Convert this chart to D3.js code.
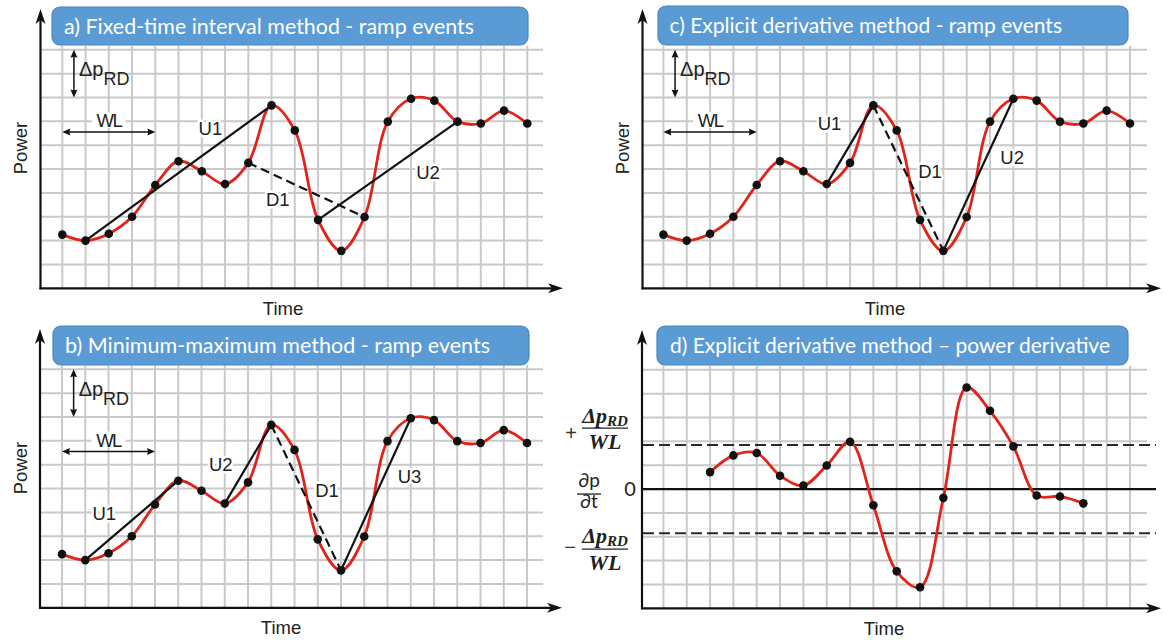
<!DOCTYPE html>
<html><head><meta charset="utf-8">
<script src="https://cdn.jsdelivr.net/npm/d3@7"></script>
<style>body{margin:0;background:#fff} svg{display:block}</style>
</head><body>
<svg id="chart" width="1163" height="641"></svg>
<script>
// ================= DATA =================
const timeSteps = [0,1,2,3,4,5,6,7,8,9,10,11,12,13,14,15,16,17,18,19,20];
const powerValues = [2.25,2.0,2.29,3.0,4.33,5.33,4.91,4.37,5.26,7.67,6.62,2.87,1.57,2.99,6.99,7.95,7.87,6.99,6.91,7.45,6.91];
const derivTimeSteps = [2,3,4,5,6,7,8,9,10,11,12,13,14,15,16,17,18];
const derivValues = [0.71,1.41,1.51,0.56,0.15,0.99,1.98,-0.68,-3.45,-4.12,-0.37,4.26,3.28,1.79,-0.27,-0.31,-0.6];
const rampThreshold = 1.85;
const rampsA = [
  {name:"U1", from:1, to:9, dir:"up"},
  {name:"D1", from:8, to:13, dir:"down"},
  {name:"U2", from:11, to:17, dir:"up"}
];
const rampsB = [
  {name:"U1", from:1, to:5, dir:"up"},
  {name:"U2", from:7, to:9, dir:"up"},
  {name:"D1", from:9, to:12, dir:"down"},
  {name:"U3", from:12, to:15, dir:"up"}
];
const rampsC = [
  {name:"U1", from:7, to:9, dir:"up"},
  {name:"D1", from:9, to:12, dir:"down"},
  {name:"U2", from:12, to:15, dir:"up"}
];
const titleA = "a) Fixed-time interval method  - ramp events";
const titleB = "b) Minimum-maximum method - ramp events";
const titleC = "c) Explicit derivative method - ramp events";
const titleD = "d) Explicit derivative method \u2013 power derivative";
const yLabel = "Power";
const xLabel = "Time";

// ================= LAYOUT =================
const labelPosA = {U1:[6.37,6.71], D1:[9.27,3.76], U2:[15.73,4.89]};
const labelPosB = {U1:[1.82,3.97], U2:[6.83,6.04], D1:[11.4,4.95], U3:[14.95,5.53]};
const labelPosC = {U1:[7.12,6.92], D1:[11.43,4.93], U2:[14.95,5.52]};

const GRID = "#c9c9c9", RED = "#e2231a", BOX = "#5b9bd5", BOXS = "#4a86c0";
const SANS = "'Liberation Sans', Arial, sans-serif";
const TSANS = "Lato, 'Open Sans', sans-serif";
const svg = d3.select("#chart");

function arrowHead(g, tx, ty, dir, len, half, notch) {
  let p;
  if (dir === 'r') p = [[tx,ty],[tx-len,ty-half],[tx-len+notch,ty],[tx-len,ty+half]];
  if (dir === 'l') p = [[tx,ty],[tx+len,ty-half],[tx+len-notch,ty],[tx+len,ty+half]];
  if (dir === 'u') p = [[tx,ty],[tx-half,ty+len],[tx,ty+len-notch],[tx+half,ty+len]];
  if (dir === 'd') p = [[tx,ty],[tx-half,ty-len],[tx,ty-len+notch],[tx+half,ty-len]];
  g.append("path").attr("d", "M" + p.map(q => q.join(",")).join("L") + "Z").attr("fill", "#111");
}

function panel(cfg) {
  const g = svg.append("g");
  const x = d3.scaleLinear().domain([0, 20]).range([cfg.x0, cfg.x1]);
  const y = d3.scaleLinear().domain(cfg.yDomain).range([cfg.ay, cfg.yTop]);
  const rowVals = d3.range(1, 11).map(i => cfg.yDomain[0] + i);

  g.selectAll("line.hg").data(rowVals).join("line").attr("class", "hg")
    .attr("x1", cfg.ax).attr("x2", cfg.gridRight)
    .attr("y1", d => y(d)).attr("y2", d => y(d))
    .attr("stroke", GRID).attr("stroke-width", 2);
  g.selectAll("line.vg").data(timeSteps).join("line").attr("class", "vg")
    .attr("x1", d => x(d)).attr("x2", d => x(d))
    .attr("y1", cfg.yTop - 4).attr("y2", cfg.ay)
    .attr("stroke", GRID).attr("stroke-width", 2);

  const [bx0, by0, bx1, by1] = cfg.box;
  g.append("rect").attr("x", bx0).attr("y", by0).attr("width", bx1 - bx0).attr("height", by1 - by0)
    .attr("rx", 8).attr("fill", BOX).attr("stroke", BOXS).attr("stroke-width", 1.2);
  g.append("text").attr("x", cfg.titleX[0]).attr("y", by0 + 27)
    .attr("textLength", cfg.titleX[1] - cfg.titleX[0]).attr("lengthAdjust", "spacingAndGlyphs")
    .attr("fill", "#fff").attr("font-family", TSANS).attr("font-size", 20.5).text(cfg.title);

  g.append("line").attr("x1", cfg.ax).attr("x2", cfg.ax).attr("y1", cfg.ay + 1).attr("y2", cfg.tipY + 8)
    .attr("stroke", "#111").attr("stroke-width", 2.2);
  arrowHead(g, cfg.ax, cfg.tipY, 'u', 15, 5, 4);
  g.append("line").attr("x1", cfg.ax - 1).attr("x2", cfg.tipX - 8).attr("y1", cfg.ay).attr("y2", cfg.ay)
    .attr("stroke", "#111").attr("stroke-width", 2.2);
  arrowHead(g, cfg.tipX, cfg.ay, 'r', 15, 5, 4);

  if (cfg.powerLabel) {
    g.append("text").attr("transform", `translate(${cfg.powerLabel[0]},${cfg.powerLabel[1]}) rotate(-90)`)
      .attr("text-anchor", "middle").attr("font-family", SANS).attr("font-size", 18.5).attr("fill", "#222").text(yLabel);
  }
  g.append("text").attr("x", cfg.timeLabel[0]).attr("y", cfg.timeLabel[1])
    .attr("text-anchor", "middle").attr("font-family", SANS).attr("font-size", 18.5).attr("fill", "#222").text(xLabel);

  return {g, x, y};
}

function annotations(P) {
  const {g, x, y} = P;
  const ax = x(0.5);
  g.append("line").attr("x1", ax).attr("x2", ax).attr("y1", y(10) + 6).attr("y2", y(8) - 6)
    .attr("stroke", "#111").attr("stroke-width", 1.5);
  arrowHead(g, ax, y(10), 'u', 8, 3.5, 1);
  arrowHead(g, ax, y(8), 'd', 8, 3.5, 1);
  const t = g.append("text").attr("x", ax + 5).attr("y", y(8.9)).attr("font-family", SANS)
    .attr("font-size", 20).attr("fill", "#222");
  t.append("tspan").text("\u0394p");
  t.append("tspan").attr("dy", 9).attr("font-size", 18).text("RD");
  const wy = y(6.55);
  g.append("line").attr("x1", x(0) + 6).attr("x2", x(4) - 6).attr("y1", wy).attr("y2", wy)
    .attr("stroke", "#111").attr("stroke-width", 1.5);
  arrowHead(g, x(0), wy, 'l', 8, 3.5, 1);
  arrowHead(g, x(4), wy, 'r', 8, 3.5, 1);
  g.append("rect").attr("x", x(2) - 17).attr("y", y(6.76) - 15).attr("width", 34).attr("height", 16).attr("fill", "#fff");
  g.append("text").attr("x", x(2)).attr("y", y(6.76)).attr("text-anchor", "middle")
    .attr("font-family", SANS).attr("font-size", 18.5).attr("letter-spacing", -1.5).attr("fill", "#222").text("WL");
}

function powerCurve(P, ramps, labelPos) {
  const {g, x, y} = P;
  const pts = timeSteps.map((t, i) => [t, powerValues[i]]);
  const line = d3.line().x(d => x(d[0])).y(d => y(d[1])).curve(d3.curveCatmullRom.alpha(0.5));
  g.append("path").attr("d", line(pts)).attr("fill", "none").attr("stroke", RED).attr("stroke-width", 2.8);
  g.selectAll("line.ramp").data(ramps).join("line").attr("class", "ramp")
    .attr("x1", d => x(timeSteps[d.from])).attr("y1", d => y(powerValues[d.from]))
    .attr("x2", d => x(timeSteps[d.to])).attr("y2", d => y(powerValues[d.to]))
    .attr("stroke", "#111").attr("stroke-width", 2.2)
    .attr("stroke-dasharray", d => d.dir === "down" ? "9,5" : null);
  g.selectAll("circle.pt").data(pts).join("circle").attr("class", "pt")
    .attr("cx", d => x(d[0])).attr("cy", d => y(d[1])).attr("r", 4.3).attr("fill", "#111");
  g.selectAll("text.rl").data(ramps).join("text").attr("class", "rl")
    .attr("x", d => x(labelPos[d.name][0])).attr("y", d => y(labelPos[d.name][1]) + 7)
    .attr("text-anchor", "middle").attr("font-family", SANS).attr("font-size", 18.5).attr("fill", "#222")
    .attr("stroke", "#fff").attr("stroke-width", 5).attr("paint-order", "stroke").attr("stroke-linejoin", "round")
    .text(d => d.name);
}

const PA = panel({ax:40.5, ay:288.3, x0:62.3, x1:527.3, yTop:49.8, tipX:563, tipY:9, gridRight:543,
  box:[52,7,528,45], title:titleA, titleX:[64,474], yDomain:[0,10], powerLabel:[27,148], timeLabel:[283,315]});
annotations(PA);
powerCurve(PA, rampsA, labelPosA);

const PB = panel({ax:40, ay:607.8, x0:62, x1:527, yTop:369.3, tipX:562, tipY:329, gridRight:543,
  box:[53,326,529,365], title:titleB, titleX:[65,490], yDomain:[0,10], powerLabel:[27,468], timeLabel:[281,634]});
annotations(PB);
powerCurve(PB, rampsB, labelPosB);

const PC = panel({ax:642.5, ay:288.3, x0:663.4, x1:1130, yTop:49.8, tipX:1161, tipY:9, gridRight:1147,
  box:[658,6,1128,45], title:titleC, titleX:[669.5,1062], yDomain:[0,10], powerLabel:[629,148], timeLabel:[885,315]});
annotations(PC);
powerCurve(PC, rampsC, labelPosC);

const PD = panel({ax:642, ay:608.3, x0:663.4, x1:1130, yTop:369.8, tipX:1161, tipY:330, gridRight:1147,
  box:[657,326,1128,365], title:titleD, titleX:[670,1110], yDomain:[-5,5], powerLabel:null, timeLabel:[884,635]});
(function () {
  const {g, x, y} = PD;
  const Z = y(0);
  g.append("line").attr("x1", 642).attr("x2", 1156).attr("y1", Z).attr("y2", Z).attr("stroke", "#111").attr("stroke-width", 2.2);
  g.selectAll("line.thr").data([rampThreshold, -rampThreshold]).join("line").attr("class", "thr")
    .attr("x1", 643).attr("x2", 1156).attr("y1", d => y(d)).attr("y2", d => y(d))
    .attr("stroke", "#2a2a2a").attr("stroke-width", 2).attr("stroke-dasharray", "11,5");
  const pts = derivTimeSteps.map((t, i) => [t, derivValues[i]]);
  const line = d3.line().x(d => x(d[0])).y(d => y(d[1])).curve(d3.curveCatmullRom.alpha(0.5));
  g.append("path").attr("d", line(pts)).attr("fill", "none").attr("stroke", RED).attr("stroke-width", 2.8);
  g.selectAll("circle.pt").data(pts).join("circle").attr("class", "pt")
    .attr("cx", d => x(d[0])).attr("cy", d => y(d[1])).attr("r", 4.3).attr("fill", "#111");

  const SERIF = "'Liberation Serif', 'DejaVu Serif', serif";
  function frac(sign, signX, signBase, numBase, barY, denBase) {
    g.append("text").attr("x", signX).attr("y", signBase).attr("text-anchor", "middle")
      .attr("font-family", SANS).attr("font-size", 20).attr("fill", "#333").text(sign);
    const n = g.append("text").attr("x", 605).attr("y", numBase).attr("text-anchor", "middle")
      .attr("font-family", SERIF).attr("font-weight", "bold").attr("font-style", "italic")
      .attr("font-size", 22).attr("fill", "#222");
    n.append("tspan").text("\u0394p");
    n.append("tspan").attr("dy", 3).attr("font-size", 15).text("RD");
    g.append("line").attr("x1", 582).attr("x2", 628).attr("y1", barY).attr("y2", barY).attr("stroke", "#222").attr("stroke-width", 1.3);
    g.append("text").attr("x", 605).attr("y", denBase).attr("text-anchor", "middle")
      .attr("font-family", SERIF).attr("font-weight", "bold").attr("font-style", "italic")
      .attr("font-size", 22).attr("fill", "#222").text("WL");
  }
  frac("+", 571, Z - 49, Z - 66, Z - 61, Z - 40);
  frac("\u2212", 570, Z + 65, Z + 54, Z + 60, Z + 81);
  g.append("text").attr("x", 589).attr("y", Z - 2).attr("text-anchor", "middle")
    .attr("font-family", TSANS).attr("font-size", 19).attr("fill", "#222").text("\u2202p");
  g.append("line").attr("x1", 577).attr("x2", 601).attr("y1", Z + 5).attr("y2", Z + 5).attr("stroke", "#222").attr("stroke-width", 1.3);
  g.append("text").attr("x", 589).attr("y", Z + 19).attr("text-anchor", "middle")
    .attr("font-family", TSANS).attr("font-size", 19).attr("fill", "#222").text("\u2202t");
  g.append("text").attr("x", 630).attr("y", Z + 7).attr("text-anchor", "middle")
    .attr("font-family", TSANS).attr("font-size", 20).attr("fill", "#222").text("0");
})();
</script>
</body></html>
